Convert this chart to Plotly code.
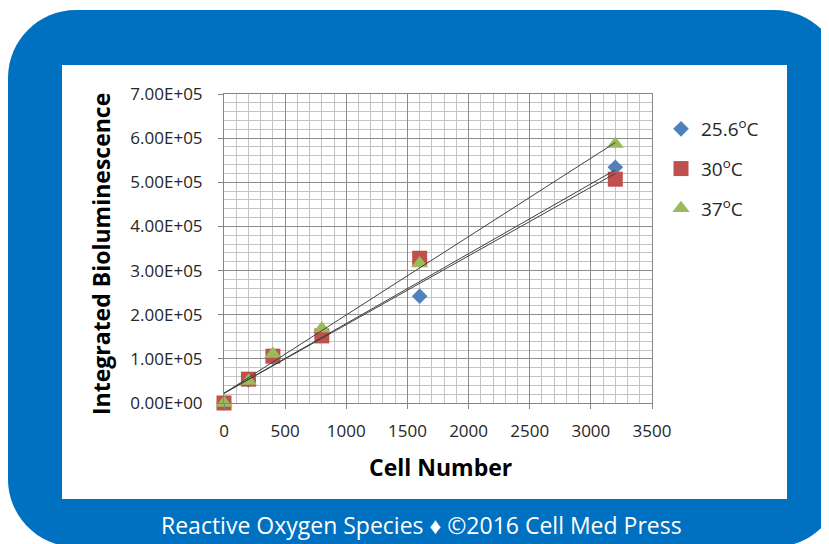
import plotly.graph_objects as go

# ---------------- data ----------------
cell_number = [0, 200, 400, 800, 1600, 3200]
series_names = ["25.6<sup>o</sup>C", "30<sup>o</sup>C", "37<sup>o</sup>C"]
biolum_25_6 = [0, 52000, 103000, 160000, 242000, 534000]
biolum_30 = [0, 54000, 106000, 152000, 328000, 507000]
biolum_37 = [0, 50000, 111000, 169000, 316000, 587000]

# linear trendline end values (x = 0 and x = 3200)
trend_x = [0, 3200]
trend_25_6 = [22000, 528000]
trend_30 = [22000, 520000]
trend_37 = [22000, 590000]

x_tick_vals = [0, 500, 1000, 1500, 2000, 2500, 3000, 3500]
y_tick_vals = [0, 100000, 200000, 300000, 400000, 500000, 600000, 700000]
y_tick_labels = ["0.00E+00", "1.00E+05", "2.00E+05", "3.00E+05",
                 "4.00E+05", "5.00E+05", "6.00E+05", "7.00E+05"]

x_title = "Cell Number"
y_title = "Integrated Bioluminescence"
footer = "Reactive Oxygen Species \u2666 \u00a92016 Cell Med Press"

# ---------------- layout geometry (window pixels) ----------------
OFF = 8                      # page body margin of the html
WIN_W, WIN_H = 829, 544
W, H = WIN_W - OFF, WIN_H - OFF
PL, PR, PT, PB = 224, 652, 94, 403  # plot area in window pixels


def px(x):
    return (x - PL) / (PR - PL)


def py(y):
    return (PB - y) / (PB - PT)


def rounded_rect(x0, y0, x1, y1, r):
    k = 0.5523 * r
    pts = [
        f"M {px(x0 + r)},{py(y0)}",
        f"L {px(x1 - r)},{py(y0)}",
        f"C {px(x1 - r + k)},{py(y0)} {px(x1)},{py(y0 + r - k)} {px(x1)},{py(y0 + r)}",
        f"L {px(x1)},{py(y1 - r)}",
        f"C {px(x1)},{py(y1 - r + k)} {px(x1 - r + k)},{py(y1)} {px(x1 - r)},{py(y1)}",
        f"L {px(x0 + r)},{py(y1)}",
        f"C {px(x0 + r - k)},{py(y1)} {px(x0)},{py(y1 - r + k)} {px(x0)},{py(y1 - r)}",
        f"L {px(x0)},{py(y0 + r)}",
        f"C {px(x0)},{py(y0 + r - k)} {px(x0 + r - k)},{py(y0)} {px(x0 + r)},{py(y0)}",
        "Z",
    ]
    return " ".join(pts)


BLUE_BG = "#0070C0"
FONT = "Open Sans"

colors = ["#4F81BD", "#C0504D", "#9BBB59"]
symbols = ["diamond", "square", "triangle-up"]
sizes = [12, 15, 15]
values = [biolum_25_6, biolum_30, biolum_37]
trends = [trend_25_6, trend_30, trend_37]

fig = go.Figure()

for i in range(3):
    fig.add_trace(go.Scatter(
        x=cell_number, y=values[i], mode="markers", name=series_names[i],
        legendgroup=f"g{i}",
        marker=dict(symbol=symbols[i], size=sizes[i], color=colors[i],
                    line=dict(width=0)),
        cliponaxis=False,
    ))

for i in range(3):
    fig.add_trace(go.Scatter(
        x=trend_x, y=trends[i], mode="lines", showlegend=False,
        line=dict(color="#404040", width=1), hoverinfo="skip",
    ))

fig.update_layout(
    width=W, height=H,
    margin=dict(l=PL - OFF, r=WIN_W - PR, t=PT - OFF, b=WIN_H - PB, pad=0),
    paper_bgcolor="white",
    plot_bgcolor="rgba(0,0,0,0)",
    font=dict(family=FONT, color="#262626"),
    showlegend=True,
    legend=dict(
        x=px(661), y=py(110), xanchor="left", yanchor="top",
        font=dict(family=FONT, size=19, color="#262626"),
        tracegroupgap=12, itemwidth=30,
        bgcolor="rgba(0,0,0,0)",
    ),
    shapes=[
        dict(type="path", xref="paper", yref="paper", layer="below",
             path=rounded_rect(8, 10, 842, 547, 68),
             fillcolor=BLUE_BG, line=dict(width=0)),
        dict(type="rect", xref="paper", yref="paper", layer="below",
             x0=px(62), x1=px(787), y0=py(65), y1=py(499),
             fillcolor="white", line=dict(width=0)),
    ],
    annotations=[
        dict(text=x_title, xref="paper", yref="paper", x=px(440), y=py(467),
             showarrow=False, xanchor="center", yanchor="middle",
             font=dict(family=FONT, size=23, color="black", weight="bold")),
        dict(text=y_title, xref="paper", yref="paper", x=px(101), y=py(254),
             showarrow=False, xanchor="center", yanchor="middle", textangle=-90,
             font=dict(family=FONT, size=23, color="black", weight="bold")),
        dict(text=footer, xref="paper", yref="paper", x=px(421), y=py(525),
             showarrow=False, xanchor="center", yanchor="middle",
             font=dict(family=FONT, size=23, color="white")),
    ],
)

fig.update_xaxes(
    range=[0, 3500], tickvals=x_tick_vals, ticks="outside", ticklen=5,
    tickcolor="#868686", ticklabelstandoff=8,
    tickfont=dict(family=FONT, size=17, color="#262626"),
    showgrid=True, gridcolor="#8c8c8c", gridwidth=1,
    minor=dict(dtick=100, showgrid=True, gridcolor="#c4c4c4", gridwidth=1),
    showline=True, linecolor="#868686", linewidth=1, mirror=True,
    zeroline=False, fixedrange=True,
)
fig.update_yaxes(
    range=[0, 700000], tickvals=y_tick_vals, ticktext=y_tick_labels,
    ticks="outside", ticklen=5, tickcolor="#868686",
    ticklabelstandoff=12,
    tickfont=dict(family=FONT, size=17, color="#262626"),
    showgrid=True, gridcolor="#8c8c8c", gridwidth=1,
    minor=dict(dtick=20000, showgrid=True, gridcolor="#c4c4c4", gridwidth=1),
    showline=True, linecolor="#868686", linewidth=1, mirror=True,
    zeroline=False, fixedrange=True,
)

fig.write_html("out.html")
